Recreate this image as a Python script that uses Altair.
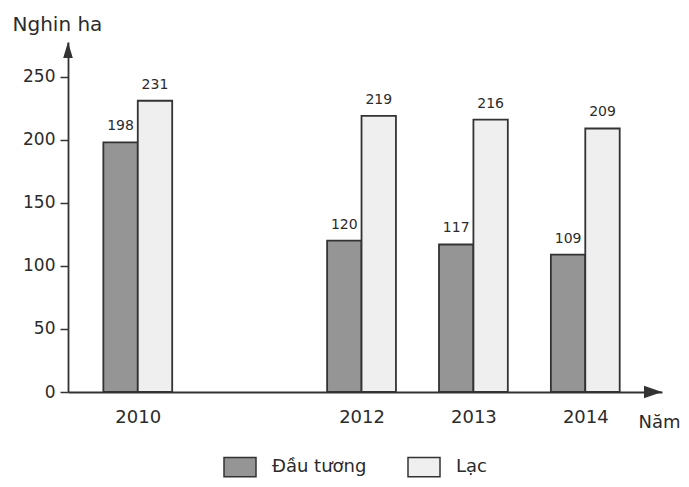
import altair as alt
import pandas as pd

years = [2010, 2012, 2013, 2014]
dau_tuong = [198, 120, 117, 109]
lac = [231, 219, 216, 209]
series_names = ["Đầu tương", "Lạc"]
y_ticks = [0, 50, 100, 150, 200, 250]

rows = []
for i, yr in enumerate(years):
    rows.append({"year": yr, "series": series_names[0], "value": dau_tuong[i], "order": 0})
    rows.append({"year": yr, "series": series_names[1], "value": lac[i], "order": 1})
df = pd.DataFrame(rows)

W, H = 594, 350
BAR = 0.3076
FONT = "DejaVu Sans"
INK = "#2b2b2b"

xscale = alt.Scale(domain=[2009.421, 2014.641], nice=False, zero=False)
yscale = alt.Scale(domain=[0, 277.6], nice=False)

x_axis = alt.Axis(
    values=years,
    format="d",
    ticks=False,
    labelPadding=16,
    labelFontSize=18,
    title="Năm",
    titleX=570,
    titleY=35,
    titleAlign="left",
    titleBaseline="alphabetic",
    titleFontSize=18,
    titleFontWeight="normal",
)
y_axis = alt.Axis(
    values=y_ticks,
    tickSize=8,
    labelPadding=5,
    labelFontSize=17,
    title="Nghin ha",
    titleAngle=0,
    titleX=-56,
    titleY=-12,
    titleAlign="left",
    titleBaseline="alphabetic",
    titleFontSize=20,
    titleFontWeight="normal",
)

base = alt.Chart(df).transform_calculate(
    x0=f"datum.year + (datum.order - 1) * {BAR}",
    x1=f"datum.year + datum.order * {BAR}",
    xm=f"datum.year + (datum.order - 0.5) * {BAR}",
)

bars = base.mark_bar(stroke="#333333", strokeWidth=1.8, orient="vertical").encode(
    x=alt.X("x0:Q", scale=xscale, axis=x_axis),
    x2="x1:Q",
    y=alt.Y("value:Q", scale=yscale, axis=y_axis),
    y2=alt.datum(0),
    color=alt.Color(
        "series:N",
        scale=alt.Scale(domain=series_names, range=["#959595", "#efefef"]),
        legend=alt.Legend(
            title=None,
            orient="none",
            direction="horizontal",
            legendX=155,
            legendY=408,
            symbolType="M-1,-0.6H1V0.6H-1Z",
            symbolSize=1024,
            symbolStrokeColor="#333333",
            symbolStrokeWidth=1.5,
            symbolOpacity=1,
            labelFont=FONT,
            labelFontSize=18,
            labelColor=INK,
            labelOffset=15,
            columnPadding=38,
        ),
    ),
)

labels = base.mark_text(
    baseline="alphabetic", dy=-12, font=FONT, fontSize=14, color=INK
).encode(
    x=alt.X("xm:Q", scale=xscale, axis=x_axis),
    y=alt.Y("value:Q", scale=yscale, axis=y_axis),
    text=alt.Text("value:Q"),
)

anchor = pd.DataFrame({"k": [0]})
arrow_x = alt.Chart(anchor).mark_point(
    shape="M-1,-0.7L1,0L-1,0.7Z", size=324, filled=True, color="#333333", opacity=1
).encode(x=alt.value(W - 9), y=alt.value(H))
arrow_y = alt.Chart(anchor).mark_point(
    shape="M-0.6,1L0,-1L0.6,1Z", size=256, filled=True, color="#333333", opacity=1
).encode(x=alt.value(0), y=alt.value(8))

chart = (
    alt.layer(bars, labels, arrow_x, arrow_y)
    .properties(
        width=W,
        height=H,
        padding={"left": 60, "top": 34, "right": 19, "bottom": 87},
        autosize=alt.AutoSizeParams(type="none"),
        background="white",
    )
    .configure_view(stroke=None)
    .configure_axis(
        grid=False,
        domainColor="#333333",
        domainWidth=1.8,
        tickColor="#333333",
        tickWidth=1.5,
        labelFont=FONT,
        labelColor=INK,
        titleFont=FONT,
        titleColor=INK,
    )
)

chart.save("out.html", embed_options={"renderer": "svg", "actions": False})
